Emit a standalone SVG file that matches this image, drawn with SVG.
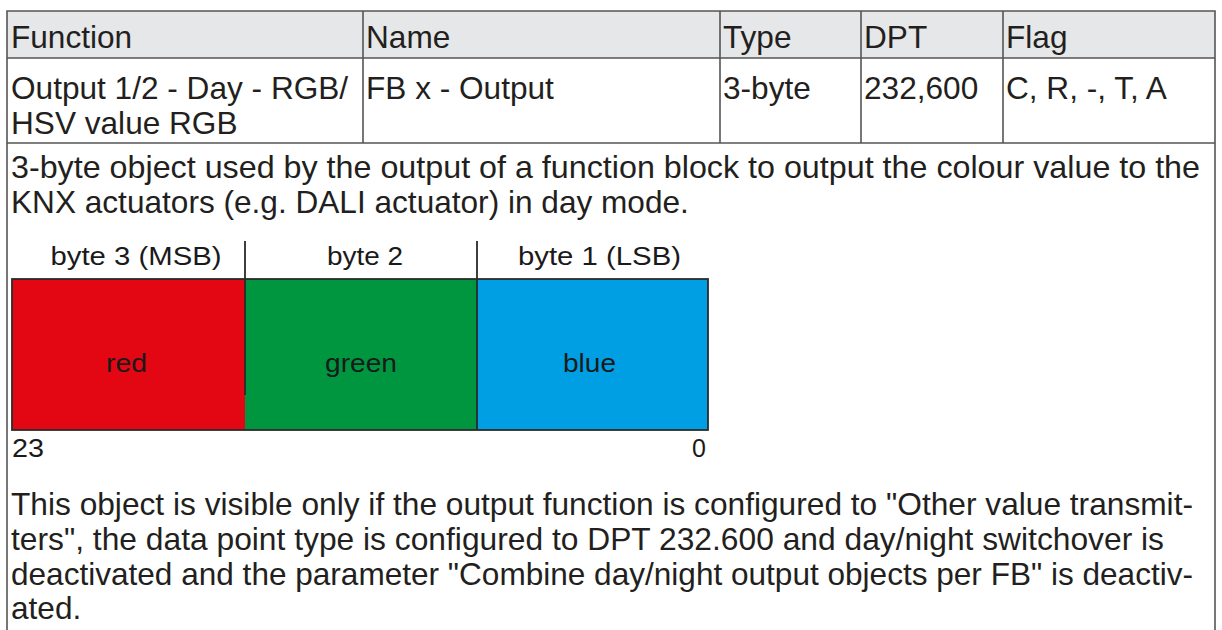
<svg xmlns="http://www.w3.org/2000/svg" width="1222" height="630" viewBox="0 0 1222 630">
<style>
.t{font-family:"Liberation Sans",Arial,sans-serif;font-size:31.6px;fill:#231f20}
.d{font-family:"Liberation Sans",Arial,sans-serif;font-size:25px;fill:#1a1a1a}
.b{stroke:#555;stroke-width:1.6;fill:none}
.k{stroke:#2b2b2b;stroke-width:1.8;fill:none}
</style>
<rect width="1222" height="630" fill="#fff"/>
<g id="table">
<rect x="7" y="11" width="1208" height="47" fill="#e6e7e8"/>
<path class="b" d="M7 640V11H1215V640M7 58H1215M7 143H1215M363 11V143M720 11V143M861 11V143M1003 11V143"/>
</g>
<g id="header">
<text class="t" x="11" y="48">Function</text>
<text class="t" x="366" y="48">Name</text>
<text class="t" x="723" y="48">Type</text>
<text class="t" x="864" y="48">DPT</text>
<text class="t" x="1006" y="48">Flag</text>
</g>
<g id="row">
<text class="t" x="11" y="99">Output 1/2 - Day - RGB/</text>
<text class="t" x="11" y="134">HSV value RGB</text>
<text class="t" x="366" y="99">FB x - Output</text>
<text class="t" x="723" y="99">3-byte</text>
<text class="t" x="864" y="99">232,600</text>
<text class="t" x="1006" y="99">C, R, -, T, A</text>
</g>
<g id="description">
<text class="t" x="11" y="178" textLength="1189" lengthAdjust="spacingAndGlyphs">3-byte object used by the output of a function block to output the colour value to the</text>
<text class="t" x="11" y="213">KNX actuators (e.g. DALI actuator) in day mode.</text>
</g>
<g id="bytes">
<rect x="12" y="279" width="233" height="151" fill="#e30613"/>
<rect x="245" y="279" width="232" height="151" fill="#009640"/>
<rect x="477" y="279" width="231" height="151" fill="#009fe3"/>
<rect class="k" x="12" y="279" width="696" height="151"/>
<path class="k" d="M245 241V395M477 241V430"/>
<text class="d" x="136" y="265" text-anchor="middle" textLength="171" lengthAdjust="spacingAndGlyphs">byte 3 (MSB)</text>
<text class="d" x="365" y="265" text-anchor="middle" textLength="76" lengthAdjust="spacingAndGlyphs">byte 2</text>
<text class="d" x="599.5" y="265" text-anchor="middle" textLength="163" lengthAdjust="spacingAndGlyphs">byte 1 (LSB)</text>
<text class="d" x="126.5" y="372" text-anchor="middle" textLength="41" lengthAdjust="spacingAndGlyphs">red</text>
<text class="d" x="361" y="372" text-anchor="middle" textLength="72" lengthAdjust="spacingAndGlyphs">green</text>
<text class="d" x="589.5" y="372" text-anchor="middle" textLength="53" lengthAdjust="spacingAndGlyphs">blue</text>
<text class="d" x="12" y="457" textLength="32" lengthAdjust="spacingAndGlyphs">23</text>
<text class="d" x="706" y="457" text-anchor="end">0</text>
</g>
<g id="note">
<text class="t" x="11" y="515" textLength="1182" lengthAdjust="spacingAndGlyphs">This object is visible only if the output function is configured to "Other value transmit-</text>
<text class="t" x="11" y="550" textLength="1153" lengthAdjust="spacingAndGlyphs">ters", the data point type is configured to DPT 232.600 and day/night switchover is</text>
<text class="t" x="11" y="585" textLength="1182" lengthAdjust="spacingAndGlyphs">deactivated and the parameter "Combine day/night output objects per FB" is deactiv-</text>
<text class="t" x="11" y="619">ated.</text>
</g>
</svg>
